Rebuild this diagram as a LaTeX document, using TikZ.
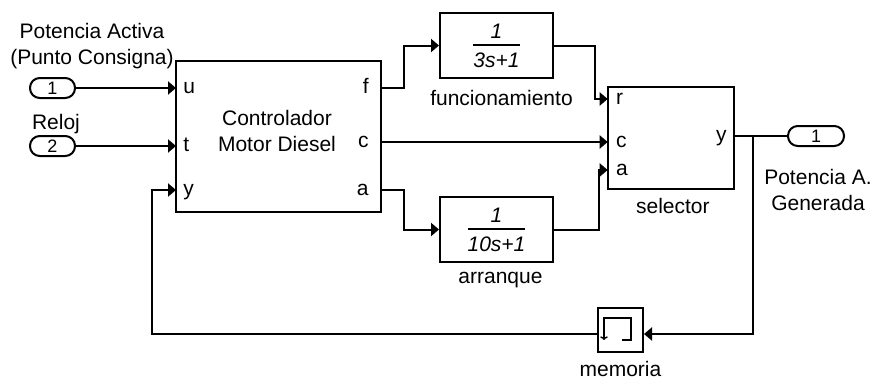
\documentclass[tikz,border=0pt]{standalone}
\usepackage{fontspec}
\setmainfont{Liberation Sans}
\usepackage{tikz}
\usetikzlibrary{arrows.meta, positioning, calc}
\newcommand{\tfcontent}[2]{\vbox{\halign{\hfil\itshape##\hfil\cr #1\cr
  \noalign{\kern 3.1pt\hrule height 0.8pt\kern 3.35pt}#2\cr}}}
\tikzset{
  blk/.style={draw, line width=1pt, fill=white, align=center, inner sep=0pt,
              font=\fontsize{10.5}{12.75}\selectfont},
  tfblk/.style={blk, minimum width=56.5pt, minimum height=32.5pt},
  portio/.style={draw, line width=1pt, rounded corners=4.9pt, inner sep=0pt,
                 minimum height=10pt, font=\fontsize{9}{10}\selectfont},
  plbl/.style={inner sep=0pt, font=\fontsize{10.5}{12.75}\selectfont},
  lbl/.style={inner sep=0pt, text height=8pt, text depth=2.2pt,
              font=\fontsize{10.5}{12.75}\selectfont},
  lblm/.style={inner sep=0pt, align=center, font=\fontsize{10.5}{12.75}\selectfont},
  flow/.style={-{Triangle[length=4pt, width=6.5pt]}, line width=1pt},
  wire/.style={line width=1pt},
}

\begin{document}
\begin{tikzpicture}[x=0.5pt, y=-0.5pt]
  \useasboundingbox (0,0) rectangle (874,380);

  % blocks
  \node[portio, minimum width=22.5pt] (in1) at (52.5,88) {1};
  \node[portio, minimum width=22.5pt] (in2) at (52.5,146) {2};
  \node[blk, minimum width=102.5pt, minimum height=75.5pt] (ctrl) at (278.5,136.2) {};
  \node[lblm] (ctrl-txt) at (277,131) {Controlador\\Motor Diesel};
  \node[tfblk] (fn1) at (496.5,45.5) {\tfcontent{1}{3s+1}};
  \node[tfblk] (fn2) at (496.5,229.5) {\tfcontent{1}{10s+1}};
  \node[blk, minimum width=63.15pt, minimum height=51.15pt] (sel) at (670.85,137.85) {};
  \node[blk, minimum width=22.5pt, minimum height=22pt] (mem) at (620.5,330) {};
  \node[portio, minimum width=28pt] (out1) at (816,136) {1};

  % ports
  \coordinate (ctrl-u) at (176,88);
  \coordinate (ctrl-t) at (176,146);
  \coordinate (ctrl-y) at (176,190);
  \coordinate (ctrl-f) at (381,88);
  \coordinate (ctrl-c) at (381,142);
  \coordinate (ctrl-a) at (381,190);
  \coordinate (sel-r) at (607.7,99);
  \coordinate (sel-c) at (607.7,142);
  \coordinate (sel-a) at (607.7,170);
  \coordinate (sel-y) at (734,136);
  \coordinate (br) at (752.7,136);
  \coordinate (fb) at (152,334);

  \node[plbl, anchor=base west] (ctrl-u-l) at ([shift={(3.5pt,-2.75pt)}]ctrl-u) {u};
  \node[plbl, anchor=base west] (ctrl-t-l) at ([shift={(3.5pt,-2.75pt)}]ctrl-t) {t};
  \node[plbl, anchor=base west] (ctrl-y-l) at ([shift={(3.5pt,-2.75pt)}]ctrl-y) {y};
  \node[plbl, anchor=base east] (ctrl-f-l) at ([shift={(-6pt,-2.75pt)}]ctrl-f) {f};
  \node[plbl, anchor=base east] (ctrl-c-l) at ([shift={(-6pt,-2.75pt)}]ctrl-c) {c};
  \node[plbl, anchor=base east] (ctrl-a-l) at ([shift={(-6pt,-2.75pt)}]ctrl-a) {a};
  \node[plbl, anchor=base west] (sel-r-l) at ([shift={(4pt,-2.75pt)}]sel-r) {r};
  \node[plbl, anchor=base west] (sel-c-l) at ([shift={(4pt,-2.75pt)}]sel-c) {c};
  \node[plbl, anchor=base west] (sel-a-l) at ([shift={(4pt,-2.75pt)}]sel-a) {a};
  \node[plbl, anchor=base east] (sel-y-l) at ([shift={(-3.5pt,-2.75pt)}]sel-y) {y};

  % memory icon
  \draw[line width=0.7pt, -{To[length=1.8pt]}] ([shift={(1.5,10)}]mem.center)
    -- ++(9,0) -- ++(0,-22) -- ++(-27,0) -- ++(0,22);

  % labels
  \node[lblm] (in1-lbl) at (92,46) {Potencia Activa\\(Punto Consigna)};
  \node[lbl] (in2-lbl) at (56,124) {Reloj};
  \node[lblm] (out1-lbl) at (818,190) {Potencia A.\\Generada};
  \node[lbl, below=5pt of fn1, xshift=2.5pt] (fn1-lbl) {funcionamiento};
  \node[lbl, below=2pt of fn2, xshift=2pt] (fn2-lbl) {arranque};
  \node[lbl, below=3.5pt of sel, xshift=1pt] (sel-lbl) {selector};
  \node[lbl, below=3.5pt of mem] (mem-lbl) {memoria};

  % signals
  \draw[flow] (in1) -- (ctrl-u);
  \draw[flow] (in2) -- (ctrl-t);
  \draw[flow] (ctrl-f) -- ++(23,0) |- (fn1);
  \draw[flow] (ctrl-c) -- (sel-c);
  \draw[flow] (ctrl-a) -- ++(23,0) |- (fn2);
  \draw[flow] (fn1.east) -- ++(41,0) |- (sel-r);
  \draw[flow] (fn2.east) -- ++(45,0) |- (sel-a);
  \draw[wire] (sel-y) -- (out1);
  \draw[flow] (br) |- ([yshift=-2pt]mem.east);
  \draw[flow] ([yshift=-2pt]mem.west) -- (fb) |- (ctrl-y);
\end{tikzpicture}
\end{document}
